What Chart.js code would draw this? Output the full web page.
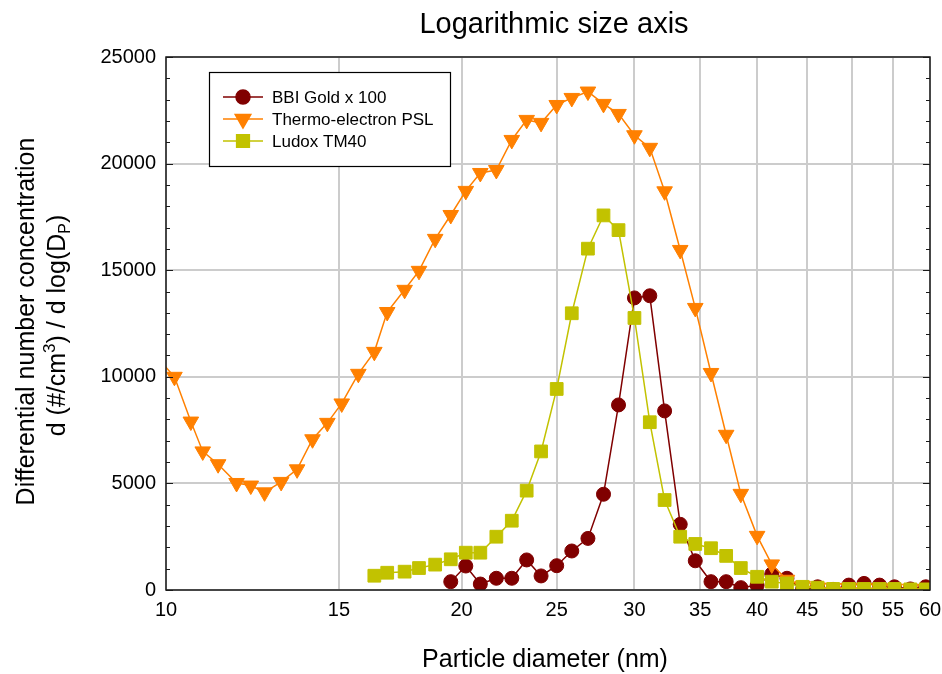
<!DOCTYPE html>
<html>
<head>
<meta charset="utf-8">
<script src="https://cdn.jsdelivr.net/npm/chart.js@4/dist/chart.umd.min.js"></script>
<style>
html,body{margin:0;padding:0;background:#fff;}
#wrap{width:942px;height:674px;}
</style>
</head>
<body>
<div id="wrap"><canvas id="c" width="942" height="674"></canvas></div>
<script>
// ---- data ----
const chartTitle = "Logarithmic size axis";
const xTitle = "Particle diameter (nm)";
const yTitleLine1 = "Differential number concentration";
const seriesNames = ["BBI Gold x 100", "Thermo-electron PSL", "Ludox TM40"];
const xTickValues = [10, 15, 20, 25, 30, 35, 40, 45, 50, 55, 60];
const yTickValues = [0, 5000, 10000, 15000, 20000, 25000];

const diameters = [9.8, 10.2, 10.6, 10.9, 11.3, 11.8, 12.2, 12.6, 13.1, 13.6, 14.1, 14.6, 15.1, 15.7,
  16.3, 16.8, 17.5, 18.1, 18.8, 19.5, 20.2, 20.9, 21.7, 22.5, 23.3, 24.1, 25.0, 25.9, 26.9, 27.9,
  28.9, 30.0, 31.1, 32.2, 33.4, 34.6, 35.9, 37.2, 38.5, 40.0, 41.4, 42.9, 44.5, 46.1, 47.8, 49.6,
  51.4, 53.3, 55.2, 57.3, 59.4];

const psl = [10900, 10000, 7900, 6500, 5900, 5020, 4900, 4580, 5070, 5660, 7070, 7840, 8750, 10140,
  11170, 13040, 14080, 14970, 16470, 17590, 18720, 19560, 19700, 21110, 22050, 21910, 22750, 23080,
  23380, 22800, 22330, 21330, 20740, 18700, 15950, 13230, 10180, 7280, 4510, 2540, 1200, 480, 200,
  120, 100, 100, 90, 80, 70, 60, 50];

const gold = [null, null, null, null, null, null, null, null, null, null, null, null, null, null,
  null, null, null, null, null,
  390, 1125, 280, 550, 550, 1410, 660, 1140, 1830, 2420, 4490, 8680, 13700, 13800, 8400, 3080,
  1370, 390, 390, 110, 220, 750, 550, 30, 150, 30, 230, 310, 230, 150, 50, 150];

const ludox = [null, null, null, null, null, null, null, null, null, null, null, null, null, null,
  670, 810, 860, 1030, 1190, 1440, 1750, 1750, 2500, 3250, 4660, 6500, 9430, 12980, 16010, 17570,
  16880, 12760, 7870, 4220, 2500, 2160, 1960, 1600, 1030, 620, 390, 310, 150, 110, 50, 50, 50, 50,
  50, 30, 30];

const toPoints = arr => diameters.map((d, i) => ({x: d, y: arr[i]})).filter(p => p.y !== null);

const COL_GOLD = '#800000', COL_PSL = '#ff8000', COL_LUDOX = '#c2c200';
const FONT = '"Liberation Sans", Arial, sans-serif';

const datasets = [
  {label: seriesNames[0], data: toPoints(gold), borderColor: COL_GOLD, backgroundColor: COL_GOLD,
   pointStyle: 'circle', pointRadius: 7, pointBorderWidth: 1, borderWidth: 1.5, order: 2},
  {label: seriesNames[1], data: toPoints(psl), borderColor: COL_PSL, backgroundColor: COL_PSL,
   pointStyle: 'triangle', pointRotation: 180, pointRadius: 9, pointBorderWidth: 1, borderWidth: 1.5, order: 1},
  {label: seriesNames[2], data: toPoints(ludox), borderColor: COL_LUDOX, backgroundColor: COL_LUDOX,
   pointStyle: 'rect', pointRadius: 9, pointBorderWidth: 1, borderWidth: 1.5, order: 0}
];
datasets.forEach(d => { d.tension = 0; d.pointHoverRadius = d.pointRadius; d.fill = false; });

const decorPlugin = {
  id: 'decor',
  afterDraw(chart) {
    const ctx = chart.ctx, a = chart.chartArea;
    const ys = chart.scales.y;
    ctx.save();
    // frame
    ctx.strokeStyle = '#1a1a1a';
    ctx.lineWidth = 1.5;
    ctx.strokeRect(a.left, a.top, a.right - a.left, a.bottom - a.top);
    // y minor/major ticks on both sides
    ctx.lineWidth = 1.2;
    for (let v = 0; v <= 25000; v += 1000) {
      const py = Math.round(ys.getPixelForValue(v)) + 0.5;
      const len = (v % 5000 === 0) ? 7 : 4;
      ctx.beginPath();
      ctx.moveTo(a.left, py); ctx.lineTo(a.left + len, py);
      ctx.moveTo(a.right, py); ctx.lineTo(a.right - len, py);
      ctx.stroke();
    }
    ctx.fillStyle = '#000';
    // title
    ctx.font = '29px ' + FONT;
    ctx.textAlign = 'center';
    ctx.textBaseline = 'alphabetic';
    ctx.fillText(chartTitle, 554, 33);
    // x title
    ctx.font = '25px ' + FONT;
    ctx.fillText(xTitle, 545, 667);
    // y title (rotated)
    const cy = (a.top + a.bottom) / 2;
    ctx.save();
    ctx.translate(34, cy - 2);
    ctx.rotate(-Math.PI / 2);
    ctx.font = '25px ' + FONT;
    ctx.textAlign = 'center';
    ctx.fillText(yTitleLine1, 0, 0);
    ctx.restore();
    // line 2 with super/subscripts
    const parts = [
      {t: 'd (#/cm', s: 25, dy: 0},
      {t: '3', s: 17, dy: -10},
      {t: ') / d log(D', s: 25, dy: 0},
      {t: 'P', s: 16, dy: 5},
      {t: ')', s: 25, dy: 0}
    ];
    let total = 0;
    parts.forEach(p => { ctx.font = p.s + 'px ' + FONT; p.w = ctx.measureText(p.t).width; total += p.w; });
    ctx.save();
    ctx.translate(65, cy + 2);
    ctx.rotate(-Math.PI / 2);
    ctx.textAlign = 'left';
    let x = -total / 2;
    parts.forEach(p => { ctx.font = p.s + 'px ' + FONT; ctx.fillText(p.t, x, p.dy); x += p.w; });
    ctx.restore();
    // legend
    const L = {x: 209, y: 72, w: 241, h: 94};
    ctx.fillStyle = '#fff';
    ctx.fillRect(L.x, L.y, L.w, L.h);
    ctx.strokeStyle = '#000';
    ctx.lineWidth = 1.2;
    ctx.strokeRect(L.x + 0.5, L.y + 0.5, L.w, L.h);
    const rowsY = [97, 119, 141];
    chart.data.datasets.forEach((ds, i) => {
      const yy = rowsY[i];
      ctx.strokeStyle = ds.borderColor;
      ctx.lineWidth = 1.5;
      ctx.beginPath(); ctx.moveTo(223, yy); ctx.lineTo(263, yy); ctx.stroke();
      ctx.fillStyle = ds.backgroundColor;
      Chart.helpers.drawPoint(ctx, {pointStyle: ds.pointStyle, radius: ds.pointRadius,
        rotation: ds.pointRotation || 0, borderWidth: 1}, 243, yy);
      ctx.fillStyle = '#000';
      ctx.font = '17px ' + FONT;
      ctx.textAlign = 'left';
      ctx.textBaseline = 'middle';
      ctx.fillText(ds.label, 272, yy + 1);
    });
    ctx.restore();
  }
};

new Chart(document.getElementById('c'), {
  type: 'line',
  data: {datasets},
  plugins: [decorPlugin],
  options: {
    responsive: false,
    animation: false,
    events: [],
    layout: {padding: {top: 57, right: 12, left: 0, bottom: 0}},
    plugins: {legend: {display: false}, title: {display: false}, tooltip: {enabled: false}},
    scales: {
      x: {
        type: 'logarithmic', min: 10, max: 60,
        afterBuildTicks: s => { s.ticks = xTickValues.map(v => ({value: v})); },
        afterFit: s => { s.height = 84; s.paddingLeft = 0; s.paddingRight = 0; },
        ticks: {autoSkip: false, maxRotation: 0, padding: 8, color: '#000',
          font: {family: FONT, size: 20}, callback: v => String(v)},
        grid: {color: '#cccccc', lineWidth: 2, drawTicks: false},
        border: {display: false}
      },
      y: {
        type: 'linear', min: 0, max: 25000,
        afterBuildTicks: s => { s.ticks = yTickValues.map(v => ({value: v})); },
        afterFit: s => { s.width = 166; s.paddingTop = 0; s.paddingBottom = 0; },
        ticks: {padding: 10, color: '#000', font: {family: FONT, size: 20}, callback: v => String(v)},
        grid: {color: '#cccccc', lineWidth: 2, drawTicks: false},
        border: {display: false}
      }
    }
  }
});
</script>
</body>
</html>
